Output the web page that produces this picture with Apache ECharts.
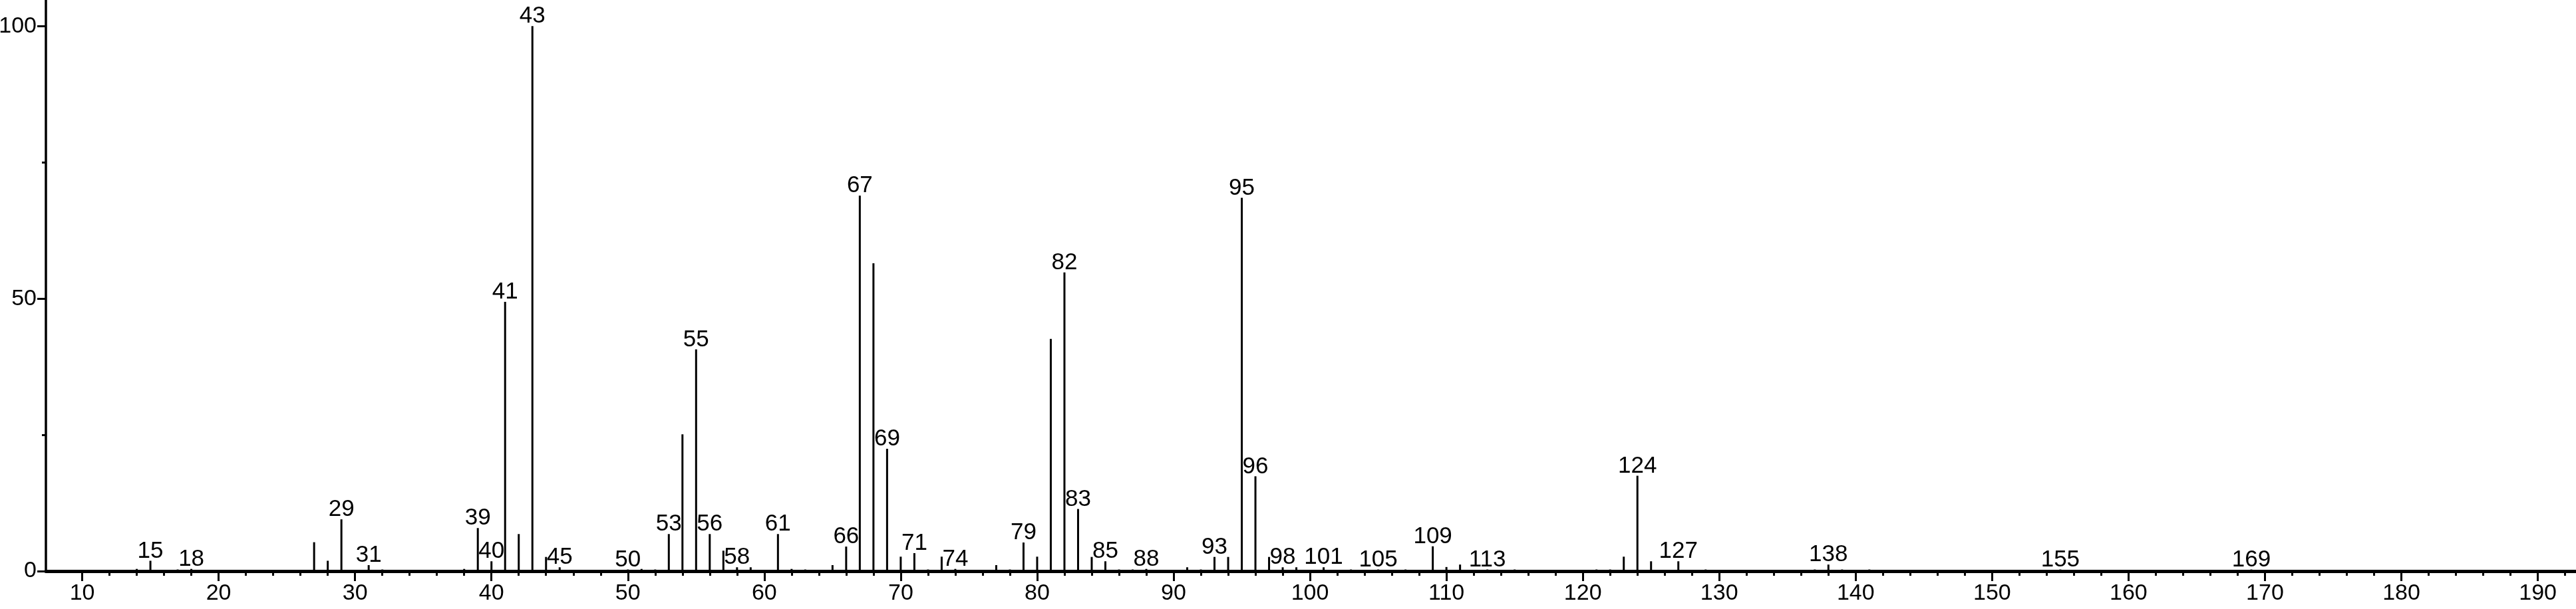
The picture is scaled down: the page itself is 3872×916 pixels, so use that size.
<!DOCTYPE html>
<html>
<head>
<meta charset="utf-8">
<script src="https://cdn.jsdelivr.net/npm/echarts@6/dist/echarts.min.js"></script>
<style>
  html, body { margin: 0; padding: 0; background: #fff; }
  #chart { width: 3872px; height: 916px; }
</style>
</head>
<body>
<div id="chart"></div>
<script>
// m/z values of the peaks
const mz = [14, 15, 17, 18, 27, 28, 29, 31, 32, 38, 39, 40, 41, 42, 43, 44, 45,
  50, 51, 52, 53, 54, 55, 56, 57, 58, 59, 61, 62, 63, 65, 66, 67, 68, 69, 70,
  71, 72, 73, 74, 77, 78, 79, 80, 81, 82, 83, 84, 85, 86, 87, 88, 91, 92, 93,
  94, 95, 96, 97, 98, 99, 101, 103, 105, 107, 109, 110, 111, 113, 115, 121,
  122, 123, 124, 125, 127, 129, 137, 138, 139, 141, 155, 169];
// relative intensities (%)
const intensity = [0.4, 1.9, 0.3, 0.4, 5.3, 1.9, 9.5, 1.1, 0.3, 0.4, 7.9, 1.8, 49.4, 6.8, 100, 2.6, 0.7,
  0.3, 0.4, 0.3, 6.8, 25.1, 40.7, 6.8, 3.75, 0.7, 0.7, 6.8, 0.4, 0.3, 1.1, 4.5, 68.9, 56.5, 22.45, 2.65,
  3.3, 0.3, 2.65, 0.4, 1.1, 0.3, 5.25, 2.65, 42.6, 54.8, 11.4, 2.6, 1.8, 0.3, 0.3, 0.4, 0.7, 0.3, 2.6,
  2.6, 68.5, 17.4, 2.6, 0.7, 0.7, 0.7, 0.3, 0.3, 0.3, 4.55, 0.75, 1.2, 0.3, 0.3, 0.3,
  0.3, 2.65, 17.5, 1.8, 1.8, 0.3, 0.3, 1.2, 0.3, 0.3, 0.3, 0.3];
// peaks that carry an m/z label
const labeledMz = [15, 18, 29, 31, 39, 40, 41, 43, 45, 50, 53, 55, 56, 58, 61, 66, 67, 69, 71, 74,
  79, 82, 83, 85, 88, 93, 95, 96, 98, 101, 105, 109, 113, 124, 127, 138, 155, 169];
// axis ticks
const xMajorTicks = [10, 20, 30, 40, 50, 60, 70, 80, 90, 100, 110, 120, 130, 140, 150, 160, 170, 180, 190];
const xMinorTicks = [12, 14, 16, 18, 22, 24, 26, 28, 32, 34, 36, 38, 42, 44, 46, 48, 52, 54, 56, 58,
  62, 64, 66, 68, 72, 74, 76, 78, 82, 84, 86, 88, 92, 94, 96, 98, 102, 104, 106, 108,
  112, 114, 116, 118, 122, 124, 126, 128, 132, 134, 136, 138, 142, 144, 146, 148,
  152, 154, 156, 158, 162, 164, 166, 168, 172, 174, 176, 178, 182, 184, 186, 188, 192];
const yMajorTicks = [0, 50, 100];
const yMinorTicks = [25, 75];

const X_MIN = 7.34, X_MAX = 192.8, Y_MIN = 0, Y_MAX = 104.8;
const FONT = '"Liberation Sans", Arial, Helvetica, sans-serif';

const labelSet = new Set(labeledMz);
const seriesData = mz.map((m, i) => [m, intensity[i]]);

const chart = echarts.init(document.getElementById('chart'), null, { renderer: 'canvas' });
chart.setOption({
  animation: false,
  backgroundColor: '#ffffff',
  grid: { left: 69, right: 0, top: 0, bottom: 57, containLabel: false, outerBoundsMode: 'none' },
  xAxis: [
    {
      type: 'value', min: X_MIN, max: X_MAX, position: 'bottom',
      axisLine: { show: true, onZero: false, lineStyle: { color: '#000', width: 5 } },
      axisTick: { show: true, customValues: xMajorTicks, length: 15, lineStyle: { color: '#000', width: 3 } },
      axisLabel: { show: true, customValues: xMajorTicks, color: '#000', fontSize: 34, fontFamily: FONT, margin: 17 },
      splitLine: { show: false }
    },
    {
      type: 'value', min: X_MIN, max: X_MAX, position: 'bottom',
      axisLine: { show: false, onZero: false },
      axisTick: { show: true, customValues: xMinorTicks, length: 7, lineStyle: { color: '#000', width: 3 } },
      axisLabel: { show: false },
      splitLine: { show: false }
    }
  ],
  yAxis: [
    {
      type: 'value', min: Y_MIN, max: Y_MAX, position: 'left',
      axisLine: { show: true, onZero: false, lineStyle: { color: '#000', width: 3.5 } },
      axisTick: { show: true, customValues: yMajorTicks, length: 13, lineStyle: { color: '#000', width: 3 } },
      axisLabel: { show: true, customValues: yMajorTicks, color: '#000', fontSize: 34, fontFamily: FONT, margin: 14 },
      splitLine: { show: false }
    },
    {
      type: 'value', min: Y_MIN, max: Y_MAX, position: 'left',
      axisLine: { show: false, onZero: false },
      axisTick: { show: true, customValues: yMinorTicks, length: 6, lineStyle: { color: '#000', width: 3 } },
      axisLabel: { show: false },
      splitLine: { show: false }
    }
  ],
  series: [{
    type: 'bar',
    xAxisIndex: 0,
    yAxisIndex: 0,
    data: seriesData,
    barWidth: 3,
    itemStyle: { color: '#000' },
    label: {
      show: true,
      position: 'top',
      distance: -3,
      color: '#000',
      fontSize: 35,
      fontFamily: FONT,
      formatter: p => labelSet.has(p.value[0]) ? String(p.value[0]) : ''
    }
  }]
});
</script>
</body>
</html>
